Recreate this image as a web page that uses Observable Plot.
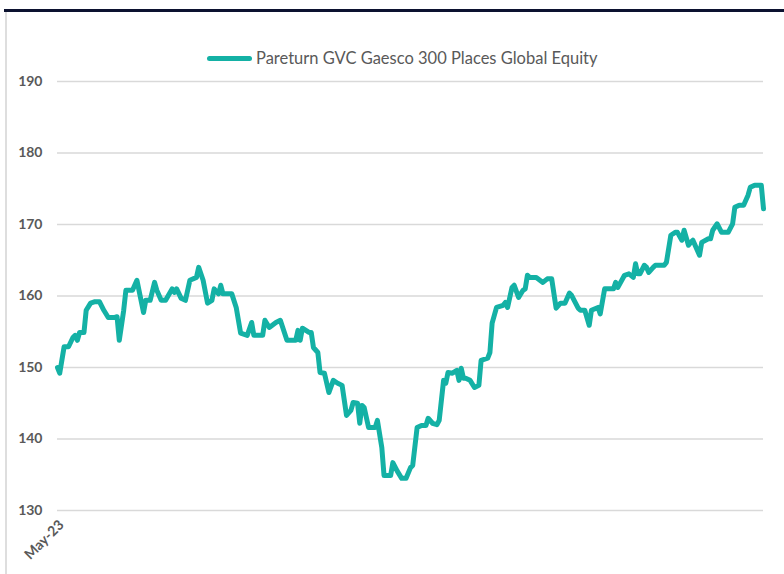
<!DOCTYPE html>
<html>
<head>
<meta charset="utf-8">
<script src="https://cdn.jsdelivr.net/npm/d3@7"></script>
<script src="https://cdn.jsdelivr.net/npm/@observablehq/plot@0.6"></script>
<style>
  html, body { margin: 0; padding: 0; background: #fff; }
  #wrap { position: relative; width: 784px; height: 574px; overflow: hidden; font-family: Lato, "Open Sans", sans-serif; }
  #topline { position: absolute; left: 4px; top: 9px; width: 780px; height: 3px; background: #0c1230; }
  #leftline { position: absolute; left: 5px; top: 12px; width: 2px; height: 562px; background: #dedede; }
  #legend { position: absolute; left: 207px; top: 48px; display: flex; align-items: center; color: #595959; font-size: 16.5px; white-space: nowrap; }
  #legend .sw { width: 45px; height: 5px; border-radius: 3px; background: #14b1a5; margin-right: 4px; }
  #chart { position: absolute; left: 0; top: 0; }
</style>
</head>
<body>
<div id="wrap">
  <div id="chart"></div>
  <div id="topline"></div>
  <div id="leftline"></div>
  <div id="legend"><div class="sw"></div><span id="legtext"></span></div>
</div>
<script>
// Series name
const seriesName = "Pareturn GVC Gaesco 300 Places Global Equity";
// Start of the series and calendar span (days)
const startDate = "2023-05-02";
const spanDays = 320;
// Day offsets from start
const dayOffsets = [0,1,3,5,7,8,9,10,12,13,15,17,19,21,23,26,27,28,30,31,34,36,39,40,42,44,45,47,49,52,53,54,56,58,60,63,64,66,68,70,71,73,74,75,79,81,83,86,88,89,93,94,96,99,101,104,108,109,110,111,114,115,116,118,119,121,123,125,127,129,131,133,134,136,137,138,139,141,144,145,147,148,151,152,154,156,158,160,161,163,165,167,168,170,172,173,175,176,177,179,181,182,183,184,185,187,189,191,192,195,196,197,199,202,203,204,206,207,209,211,212,213,214,217,220,222,224,226,228,230,232,233,236,237,239,241,242,245,246,248,252,253,254,257,259,261,262,263,264,266,267,268,270,271,275,276,278,280,281,283,284,286,287,288,291,292,295,296,297,299,301,304,306,307,309,311,313,314,316,319,320];
// Fund values
const values = [150.0,149.2,152.9,152.9,154.2,154.5,153.8,154.9,154.9,158.0,159.0,159.2,159.2,158.0,157.0,157.0,157.1,153.8,158.0,160.8,160.8,162.2,157.7,159.4,159.4,161.9,160.8,159.4,159.4,161.0,160.5,161.0,159.7,159.4,162.2,162.6,164.0,162.2,159.0,159.4,161.0,160.3,161.5,160.3,160.3,158.4,154.8,154.5,156.3,154.5,154.5,156.6,155.6,156.3,156.6,153.8,153.8,155.2,153.8,155.5,154.9,154.9,152.8,152.1,149.3,149.2,146.5,148.2,147.8,147.5,143.3,144.0,145.1,145.0,142.2,144.7,144.4,141.6,141.6,142.6,138.8,134.9,134.9,136.7,135.5,134.5,134.5,136.0,136.3,141.6,141.9,141.9,142.9,142.2,142.0,142.6,148.2,147.8,149.3,149.2,149.6,148.2,149.9,148.5,148.5,148.2,147.2,147.5,151.0,151.3,152.1,156.2,158.4,158.7,159.1,158.4,161.2,161.5,159.8,160.8,161.0,162.9,162.6,162.6,161.9,162.4,162.4,158.3,159.0,159.0,160.4,160.1,158.3,158.0,158.0,155.9,158.0,158.4,157.5,161.0,161.0,161.9,161.2,162.9,163.1,162.6,164.5,163.1,163.1,164.3,164.0,163.3,164.0,164.3,164.3,164.7,168.5,168.9,168.9,167.8,169.2,167.1,167.5,167.8,165.7,167.5,168.0,168.0,169.2,170.1,168.9,168.9,170.1,172.4,172.7,172.7,174.1,175.2,175.5,175.5,172.2];
// Axis ticks
const yTicks = [130, 140, 150, 160, 170, 180, 190];
const xTickLabels = ["May-23"];

const start = new Date(startDate + "T00:00:00Z");
const end = d3.utcDay.offset(start, spanDays);
const data = dayOffsets.map((d, i) => ({date: d3.utcDay.offset(start, d), value: values[i]}));
const xTicks = [start];

document.getElementById("legtext").textContent = seriesName;

const chart = Plot.plot({
  width: 784,
  height: 574,
  marginLeft: 57,
  marginRight: 21,
  marginTop: 81,
  marginBottom: 64,
  style: {fontFamily: "Lato, 'Open Sans', sans-serif", color: "#595959", background: "transparent"},
  x: {type: "utc", domain: [start, end]},
  y: {domain: [130, 190]},
  marks: [
    Plot.gridY(yTicks, {stroke: "#d9d9d9", strokeOpacity: 1, strokeWidth: 1.5}),
    Plot.axisY(yTicks, {tickSize: 0, tickPadding: 15, fontSize: 14, fontWeight: "bold", label: null, fill: "#595959"}),
    Plot.axisX(xTicks, {tickSize: 0, tickPadding: 12, tickRotate: -45, fontSize: 14, fontWeight: "bold", label: null, fill: "#595959", dx: 4,
      tickFormat: (d, i) => xTickLabels[i]}),
    Plot.line(data, {x: "date", y: "value", stroke: "#14b1a5", strokeWidth: 5, strokeLinejoin: "round", strokeLinecap: "round"})
  ]
});
document.getElementById("chart").appendChild(chart);
</script>
</body>
</html>
